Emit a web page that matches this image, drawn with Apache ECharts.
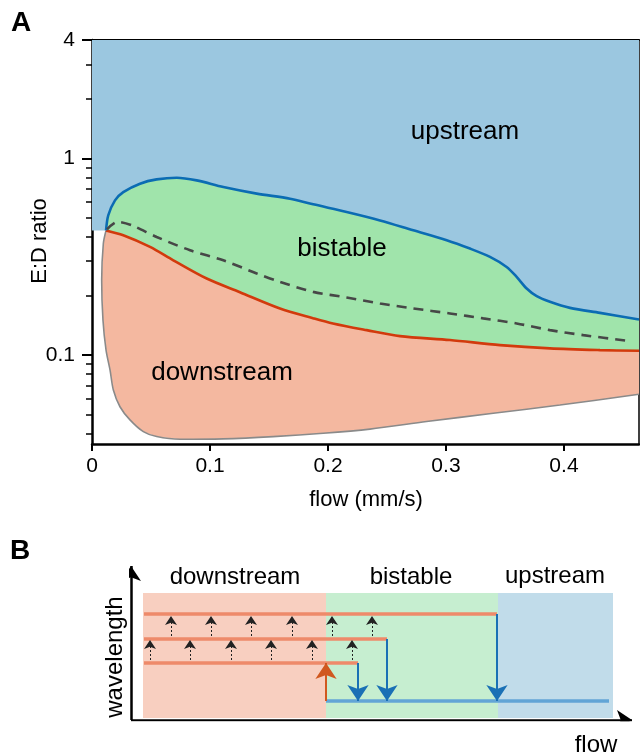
<!DOCTYPE html>
<html><head><meta charset="utf-8">
<script src="https://cdn.jsdelivr.net/npm/echarts@6/dist/echarts.min.js"></script>
<style>html,body{margin:0;padding:0;background:#fff}#c{width:640px;height:756px}</style>
</head><body><div id="c"></div>
<script>
const FONT = '"Liberation Sans", Arial, Helvetica, sans-serif';

// ---------- Panel A data ----------
const flowMax = 0.4636, ratioMin = 0.0353, ratioMax = 4.0001;
const xTickValues = [0, 0.1, 0.2, 0.3, 0.4];
const yLabelValues = [0.1, 1, 4];
const yMinorValues = [0.04,0.05,0.06,0.07,0.08,0.09,0.2,0.3,0.4,0.5,0.6,0.7,0.8,0.9,2,3];
const xAxisTitle = 'flow (mm/s)', yAxisTitle = 'E:D ratio';

const upperFlow  = [0.0119,0.0138,0.0195,0.0265,0.0407,0.0548,0.0718,0.0887,0.1113,0.1396,0.1678,0.1875,0.2158,0.2441,0.2723,0.3006,0.3203,0.3373,0.3514,0.3599,0.3684,0.3769,0.3881,0.4051,0.4305,0.4636];
const upperRatio = [0.430,0.514,0.612,0.674,0.744,0.782,0.798,0.773,0.715,0.662,0.624,0.584,0.534,0.484,0.431,0.384,0.348,0.3155,0.2806,0.2497,0.2181,0.1993,0.1865,0.1738,0.1639,0.1518];

const lowerFlow  = [0.0119,0.0265,0.0492,0.0689,0.0972,0.1254,0.1593,0.1873,0.2042,0.2328,0.2610,0.3034,0.3458,0.3881,0.4305,0.4636];
const lowerRatio = [0.430,0.4065,0.3546,0.3034,0.245,0.2088,0.1726,0.1541,0.1448,0.1339,0.1248,0.1192,0.1124,0.1081,0.106,0.1051];

const midFlow  = [0.0127,0.0215,0.0336,0.0548,0.0831,0.1113,0.1396,0.1593,0.1875,0.2158,0.2441,0.2723,0.3034,0.3316,0.3599,0.3881,0.4164,0.4559];
const midRatio = [0.436,0.476,0.457,0.3986,0.3412,0.3034,0.2598,0.2355,0.2096,0.1963,0.1830,0.1726,0.1628,0.1536,0.1448,0.1339,0.1263,0.1178];

const outerFlow  = [0.0119,0.0096,0.0082,0.0093,0.0119,0.0153,0.0181,0.0237,0.0322,0.0435,0.0548,0.0746,0.1113,0.1536,0.1960,0.2356,0.2836,0.3401,0.3966,0.4636];
const outerRatio = [0.430,0.369,0.2402,0.1506,0.106,0.0839,0.0664,0.0546,0.0468,0.0408,0.0385,0.0373,0.0375,0.0385,0.0400,0.0420,0.0459,0.0506,0.0557,0.0632];

const regionNamesA = ['upstream', 'bistable', 'downstream'];

// ---------- Panel B data (schematic units) ----------
const bFlowMax = 500, bWaveMax = 155;
const bRegionStart = [12, 195, 367];
const bRegionEnd   = [195, 367, 482];
const bRegionLow = 2, bRegionHigh = 127;
const branchStart = 13;
const branchLevel = [57, 81, 106];
const branchEnd   = [227, 256, 366];
const upBranchLevel = 19, upBranchStart = 195, upBranchEnd = 478;
const jumpUpFlow = 195;
const growRow1Flow = [19, 59, 100, 140, 181, 221];
const growRow2Flow = [40, 80, 120, 161, 201, 241];
const growRow1From = 60, growRow1To = 80;
const growRow2From = 84, growRow2To = 104;

// ---------- helpers ----------
const zip = (xs, ys) => xs.map((x, i) => [x, ys[i]]);
const upperPts = zip(upperFlow, upperRatio);
const lowerPts = zip(lowerFlow, lowerRatio);
const midPts = zip(midFlow, midRatio);
const outerPts = zip(outerFlow, outerRatio);

const bluePoly = [[0, ratioMax], [flowMax, ratioMax]].concat(upperPts.slice().reverse()).concat([[0, upperRatio[0]]]);
const greenPoly = upperPts.concat(lowerPts.slice().reverse());
const salmonPoly = lowerPts.concat(outerPts.slice().reverse());

function polySeries(pts, color) {
  return {
    type: 'custom', xAxisIndex: 0, yAxisIndex: 0, silent: true, z: 1,
    data: [[0.2, 1]],
    renderItem: (params, api) => ({
      type: 'polygon',
      shape: { points: pts.map(p => api.coord(p)) },
      style: { fill: color, stroke: null }
    })
  };
}
function strokeSeries(pts, color, width, type) {
  return {
    type: 'line', xAxisIndex: 0, yAxisIndex: 0, data: pts, showSymbol: false, symbol: 'none',
    smooth: 0.3, silent: true, z: 3,
    lineStyle: { color: color, width: width, type: type || 'solid', cap: 'butt' }
  };
}
function bLines(list, color, width, type, symbol, size) {
  return {
    type: 'lines', coordinateSystem: 'cartesian2d', xAxisIndex: 2, yAxisIndex: 3, silent: true, z: 4,
    symbol: symbol || ['none', 'none'], symbolSize: size || 10,
    lineStyle: { color: color, width: width, type: type || 'solid', opacity: 1, curveness: 0 },
    data: list.map(c => ({ coords: c }))
  };
}

const bRegionColors = ['#f8cfc0', '#c6eed0', '#c1dcea'];
const bRegionSeries = {
  type: 'custom', xAxisIndex: 2, yAxisIndex: 3, silent: true, z: 1,
  data: bRegionStart.map((s, i) => [s, bRegionEnd[i], i]),
  renderItem: (params, api) => {
    const a = api.coord([api.value(0), bRegionHigh]);
    const b = api.coord([api.value(1), bRegionLow]);
    return { type: 'rect', shape: { x: a[0], y: a[1], width: b[0] - a[0], height: b[1] - a[1] },
      style: { fill: bRegionColors[api.value(2)] } };
  }
};

const orangeBranches = branchLevel.map((lv, i) => [[branchStart, lv], [branchEnd[i], lv]]);
const dropArrows = branchLevel.map((lv, i) => [[branchEnd[i], lv], [branchEnd[i], upBranchLevel]]);
const growArrows = growRow1Flow.map(f => [[f, growRow1From], [f, growRow1To]])
  .concat(growRow2Flow.map(f => [[f, growRow2From], [f, growRow2To]]));

const txt = (text, x, y, size, opts) => Object.assign({
  type: 'text', x: x, y: y, z: 100, silent: true,
  style: { text: text, fontSize: size, fontFamily: FONT, fill: '#000', textAlign: 'center', textVerticalAlign: 'middle' }
}, opts || {});
const bold = (text, x, y) => txt(text, x, y, 28, { style: { text: text, fontSize: 28, fontWeight: 'bold', fontFamily: FONT, fill: '#000', textAlign: 'center', textVerticalAlign: 'middle' } });

const axisFont = { fontSize: 21, fontFamily: FONT, color: '#000' };

const option = {
  animation: false,
  backgroundColor: '#fff',
  grid: [
    { left: 92, top: 40, width: 547, height: 404 },
    { left: 131, top: 565, width: 500, height: 155 }
  ],
  xAxis: [
    { type: 'value', gridIndex: 0, min: 0, max: flowMax, interval: 0.1,
      axisLine: { show: true, onZero: false, lineStyle: { color: '#000', width: 2.5 } },
      axisTick: { show: true, length: 7, lineStyle: { color: '#000', width: 2 } },
      axisLabel: Object.assign({ margin: 12, formatter: v => (xTickValues.indexOf(Math.round(v * 10) / 10) >= 0 ? String(Math.round(v * 10) / 10) : ''), showMaxLabel: false }, axisFont),
      splitLine: { show: false } },
    { type: 'value', gridIndex: 0, position: 'top', min: 0, max: 1,
      axisLine: { show: true, onZero: false, lineStyle: { color: '#000', width: 2 } },
      axisTick: { show: false }, axisLabel: { show: false }, splitLine: { show: false } },
    { type: 'value', gridIndex: 1, min: 0, max: bFlowMax, show: false },
  ],
  yAxis: [
    { type: 'log', gridIndex: 0, min: ratioMin, max: ratioMax, position: 'left',
      axisLine: { show: true, lineStyle: { color: '#000', width: 2.5 } },
      axisTick: { show: true, length: 10, customValues: yLabelValues, lineStyle: { color: '#000', width: 2 } },
      axisLabel: Object.assign({ margin: 17, customValues: yLabelValues, formatter: v => String(+v.toPrecision(3)) }, axisFont),
      splitLine: { show: false } },
    { type: 'log', gridIndex: 0, min: ratioMin, max: ratioMax, position: 'left', offset: 0,
      axisLine: { show: false },
      axisTick: { show: true, length: 6, customValues: yMinorValues, lineStyle: { color: '#000', width: 1.5 } },
      axisLabel: { show: false }, splitLine: { show: false } },
    { type: 'value', gridIndex: 0, position: 'right', min: 0, max: 1,
      axisLine: { show: true, lineStyle: { color: '#000', width: 1.5 } },
      axisTick: { show: false }, axisLabel: { show: false }, splitLine: { show: false } },
    { type: 'value', gridIndex: 1, min: 0, max: bWaveMax, show: false },
  ],
  series: [
    polySeries(bluePoly, '#9bc7e0'),
    polySeries(greenPoly, '#a0e4ab'),
    polySeries(salmonPoly, '#f4b8a0'),
    strokeSeries(outerPts, '#8a8a8a', 1.6),
    strokeSeries(lowerPts, '#d23a0c', 2.6),
    strokeSeries(upperPts, '#0b6cb3', 2.6),
    strokeSeries(midPts, '#474747', 2.6, [10, 7]),

    bRegionSeries,
    bLines(orangeBranches, '#ee8a6a', 3.5),
    bLines([[[upBranchStart, upBranchLevel], [upBranchEnd, upBranchLevel]]], '#62a5d6', 3.5),
    bLines(dropArrows, '#1a70b5', 2, 'solid', ['none', 'arrow'], [8, 16]),
    bLines([[[jumpUpFlow, upBranchLevel], [jumpUpFlow, branchLevel[0]]]], '#d0581f', 2, 'solid', ['none', 'arrow'], [8, 16]),
    bLines(growArrows, '#222', 1, [2, 2], ['none', 'arrow'], [6, 9]),
    bLines([[[0, 0], [0, bWaveMax - 1]], [[0, 0], [bFlowMax + 1, 0]]], '#000', 2.5, 'solid', ['none', 'arrow'], [10, 15])
  ],
  graphic: [
    bold('A', 21, 23),
    bold('B', 20, 551),
    txt(yAxisTitle, 40, 241, 22, { rotation: Math.PI / 2 }),
    txt(xAxisTitle, 366, 500, 22),
    txt(regionNamesA[0], 465, 132, 26),
    txt(regionNamesA[1], 342, 249, 26),
    txt(regionNamesA[2], 222, 373, 26),
    txt(regionNamesA[2], 235, 577, 24),
    txt(regionNamesA[1], 411, 577, 24),
    txt(regionNamesA[0], 555, 576, 24),
    txt('wavelength', 115, 657, 24, { rotation: Math.PI / 2 }),
    txt('flow', 596, 745, 24)
  ]
};

const chart = echarts.init(document.getElementById('c'), null, { renderer: 'canvas' });
chart.setOption(option);
</script>
</body></html>
